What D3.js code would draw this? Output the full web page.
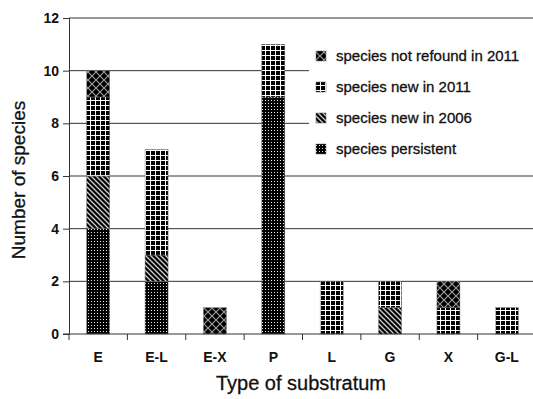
<!DOCTYPE html>
<html><head><meta charset="utf-8">
<script src="https://cdn.jsdelivr.net/npm/d3@7"></script>
<style>body{margin:0;background:#fff}svg{display:block;font-family:"Liberation Sans",Arial,sans-serif}</style>
</head><body><svg id="c" width="533" height="399"></svg>
<script>
const categories = ["E","E-L","E-X","P","L","G","X","G-L"];
const persistent = [4,2,0,9,0,0,0,0];
const new2006    = [2,1,0,0,0,1,0,0];
const new2011    = [3,4,0,2,2,1,1,1];
const notRefound = [1,0,1,0,0,0,1,0];
const seriesNames = ["species persistent","species new in 2006","species new in 2011","species not refound in 2011"];
const yTicks = [0,2,4,6,8,10,12];

const svg = d3.select("#c");
const defs = svg.append("defs");
function pat(id, w, h, draw){
  const p = defs.append("pattern").attr("id",id).attr("patternUnits","userSpaceOnUse").attr("width",w).attr("height",h);
  p.append("rect").attr("width",w).attr("height",h).attr("fill","#000");
  draw(p);
}
pat("p-pers",3,3,p=>p.append("rect").attr("x",1).attr("y",1).attr("width",1).attr("height",1).attr("fill","#e8e8e8"));
pat("p-2006",5,5,p=>{
  p.append("path").attr("d","M-1,-1L6,6M-1,4L1,6M4,-1L6,1").attr("stroke","#cfcfcf").attr("stroke-width",1.3);
});
pat("p-2011",5,5,p=>{
  p.append("rect").attr("x",0).attr("y",0).attr("width",5).attr("height",1).attr("fill","#fff");
  p.append("rect").attr("x",0).attr("y",0).attr("width",1).attr("height",5).attr("fill","#fff");
});
pat("p-not",8,8,p=>{
  p.append("path").attr("d","M0,0L8,8M8,0L0,8").attr("stroke","#9a9a9a").attr("stroke-width",1.2);
});
const fills = ["url(#p-pers)","url(#p-2006)","url(#p-2011)","url(#p-not)"];

const x = d3.scaleBand().domain(categories).range([69,536]).padding(0);
const y = d3.scaleLinear().domain([0,12]).range([334,18]);
const barW = 23;

svg.append("g").selectAll("line").data(yTicks.filter(d=>d>0)).join("line")
  .attr("x1",69).attr("x2",533).attr("y1",d=>y(d)).attr("y2",d=>y(d))
  .attr("stroke","#333").attr("stroke-width",1);

const table = categories.map((c,i)=>({cat:c, s0:persistent[i], s1:new2006[i], s2:new2011[i], s3:notRefound[i]}));
const stack = d3.stack().keys(["s0","s1","s2","s3"])(table);
svg.append("g").selectAll("g").data(stack).join("g")
  .attr("fill",(d,i)=>fills[i])
  .selectAll("rect").data(d=>d.filter(e=>e[1]>e[0])).join("rect")
  .attr("x",d=>x(d.data.cat)+(x.bandwidth()-barW)/2)
  .attr("width",barW)
  .attr("y",d=>y(d[1])).attr("height",d=>y(d[0])-y(d[1]))
  .attr("stroke","#777").attr("stroke-width",0.5);

const lg = svg.append("g");
lg.append("rect").attr("x",309).attr("y",40).attr("width",224).attr("height",124).attr("fill","#fff");
const legOrder = [3,2,1,0];
const legY = [56,87,118,149];
legOrder.forEach((si,k)=>{
  lg.append("rect").attr("x",316).attr("y",legY[k]-5).attr("width",10).attr("height",10).attr("fill",fills[si]).attr("stroke","#666").attr("stroke-width",0.5);
  lg.append("text").attr("x",336).attr("y",legY[k]+5).attr("font-size",15).attr("fill","#111")
    .attr("stroke","#111").attr("stroke-width",0.3).text(seriesNames[si]);
});

const ya = svg.append("g").attr("transform","translate(69,0)")
  .call(d3.axisLeft(y).tickValues(yTicks).tickSize(6).tickPadding(4).tickFormat(d3.format("d")));
ya.select(".domain").attr("stroke","#333");
ya.selectAll(".tick line").attr("stroke","#333");
ya.selectAll("text").attr("font-size",14).attr("font-weight","bold").attr("fill","#111").attr("font-family","Liberation Sans, Arial, sans-serif");

const xa = svg.append("g").attr("transform","translate(0,334)");
xa.append("line").attr("x1",63).attr("x2",533).attr("y1",0).attr("y2",0).attr("stroke","#333");
xa.selectAll("line.t").data(categories).join("line").attr("class","t")
  .attr("x1",d=>x(d)).attr("x2",d=>x(d)).attr("y1",0).attr("y2",6).attr("stroke","#333");
xa.selectAll("text").data(categories).join("text")
  .attr("x",d=>x(d)+x.bandwidth()/2).attr("y",28).attr("text-anchor","middle")
  .attr("font-size",14).attr("font-weight","bold").attr("fill","#111").text(d=>d);

svg.append("text").attr("x",301).attr("y",390).attr("text-anchor","middle").attr("font-size",20)
  .attr("fill","#111").attr("stroke","#111").attr("stroke-width",0.3).text("Type of substratum");
svg.append("text").attr("transform","translate(25,180) rotate(-90)").attr("text-anchor","middle").attr("font-size",19)
  .attr("fill","#111").attr("stroke","#111").attr("stroke-width",0.3).text("Number of species");
</script></body></html>
